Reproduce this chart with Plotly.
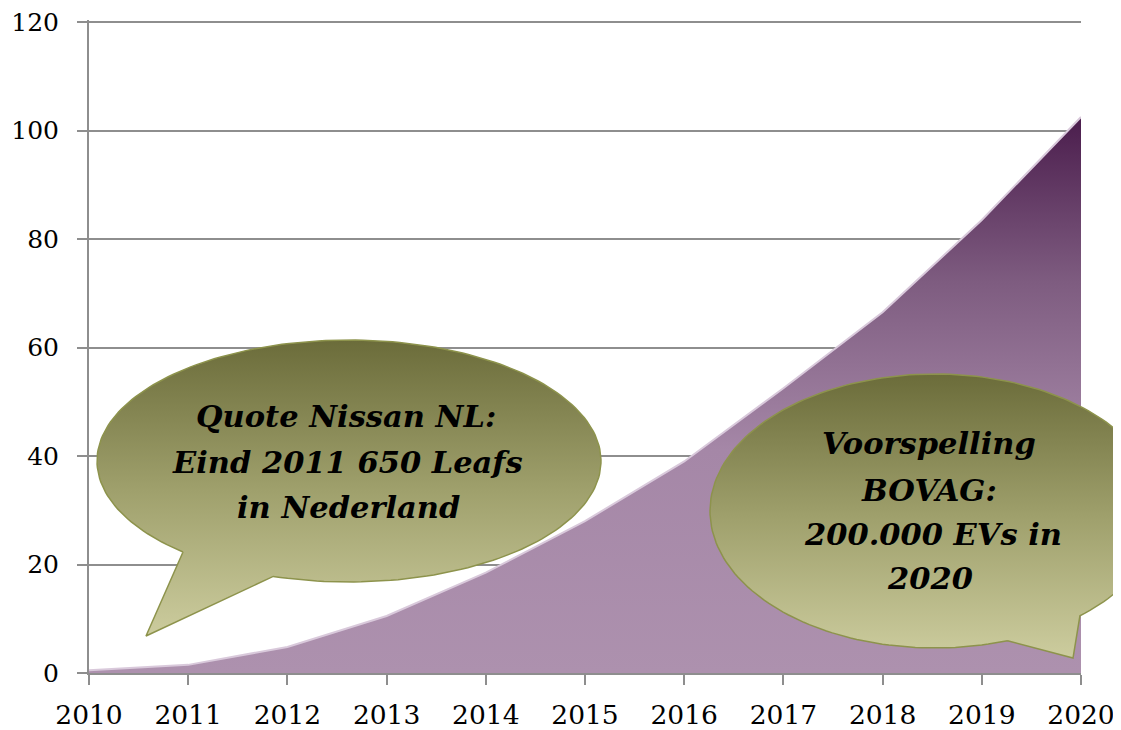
import numpy as np
import plotly.graph_objects as go

# ---- data ----
years = [2010, 2011, 2012, 2013, 2014, 2015, 2016, 2017, 2018, 2019, 2020]
evs = [0.5, 1.5, 4.8, 10.5, 18.5, 28, 39, 52.5, 66.5, 83.5, 102.5]
y_ticks = [0, 20, 40, 60, 80, 100, 120]
bubble1_lines = ["Quote Nissan NL:", "Eind 2011 650 Leafs", "in Nederland"]
bubble2_lines = ["Voorspelling", "BOVAG:", "200.000 EVs in", "2020"]

W, H = 1121, 730
OFF = 8  # page body margin
FW, FH = W - OFF, H - OFF
FONT = "DejaVu Serif"
GRID = "#8e8e8e"
Y_TOP = 120.4
top_px = 673 - (673 - 22) * Y_TOP / 120

fig = go.Figure()

# area
fig.add_trace(go.Scatter(
    x=years, y=evs, mode="lines", fill="tozeroy",
    line=dict(color="#d9c9db", width=2),
    fillgradient=dict(type="vertical", start=0, stop=103,
                      colorscale=[[0, "#ad91ae"], [0.4, "#a587a7"], [0.7, "#7e5c80"], [1, "#4a1c4c"]]),
    xaxis="x", yaxis="y", hoverinfo="skip", showlegend=False))


def bubble(cx, cy, rx, ry, th_a, th_b, tip):
    t = np.radians(np.linspace(th_a, th_b, 200))
    xs = list(cx + rx * np.cos(t)) + [tip[0], cx + rx * np.cos(t[0])]
    ys = list(cy + ry * np.sin(t)) + [tip[1], cy + ry * np.sin(t[0])]
    return xs, ys


olive_scale = [[0, "#6b6c3a"], [0.5, "#9fa06c"], [1, "#cdcd9f"]]

b1x, b1y = bubble(349, 461, 252, 121, 131.2, 107.5 + 360, (146, 636))
fig.add_trace(go.Scatter(
    x=b1x, y=b1y, mode="lines", fill="toself",
    line=dict(color="#8d934c", width=1.5),
    fillgradient=dict(type="vertical", start=340, stop=640, colorscale=olive_scale),
    xaxis="x2", yaxis="y2", hoverinfo="skip", showlegend=False))

b2x, b2y = bubble(935, 511, 225, 137, 71.2, 49.9 + 360, (1073, 658))
fig.add_trace(go.Scatter(
    x=b2x, y=b2y, mode="lines", fill="toself",
    line=dict(color="#8d934c", width=1.5),
    fillgradient=dict(type="vertical", start=374, stop=660, colorscale=olive_scale),
    xaxis="x2", yaxis="y2", hoverinfo="skip", showlegend=False))

annotations = []
for txt, (x, y) in zip(bubble1_lines, [(346, 416), (347, 462), (348, 507)]):
    annotations.append(dict(x=x, y=y, xref="x2", yref="y2", text="<b><i>%s</i></b>" % txt,
                            showarrow=False, font=dict(family=FONT, size=30.5, color="black"),
                            xanchor="center", yanchor="middle"))
for txt, (x, y) in zip(bubble2_lines, [(929, 443), (929, 490), (933, 534), (930, 578)]):
    annotations.append(dict(x=x, y=y, xref="x2", yref="y2", text="<b><i>%s</i></b>" % txt,
                            showarrow=False, font=dict(family=FONT, size=30.5, color="black"),
                            xanchor="center", yanchor="middle"))

fig.update_layout(
    width=FW, height=FH,
    margin=dict(l=0, r=0, t=0, b=0),
    paper_bgcolor="white", plot_bgcolor="rgba(0,0,0,0)",
    showlegend=False,
    annotations=annotations,
    xaxis=dict(domain=[(89 - OFF) / FW, (1081 - OFF) / FW], range=[2010, 2020], tickvals=years,
               ticktext=[str(y) for y in years], showgrid=False, zeroline=False,
               showline=True, linecolor=GRID, linewidth=2, ticks="outside",
               ticklen=10, tickwidth=2, tickcolor=GRID, ticklabelstandoff=7,
               ticklabeloverflow="allow",
               tickfont=dict(family=FONT, size=26.5, color="black"),
               automargin=False, fixedrange=True, anchor="y"),
    yaxis=dict(domain=[(H - 673) / FH, (H - top_px) / FH], range=[0, Y_TOP], tickvals=y_ticks,
               showgrid=True, gridcolor=GRID, gridwidth=2, zeroline=False,
               showline=True, linecolor=GRID, linewidth=2, ticks="outside",
               ticklen=10, tickwidth=2, tickcolor=GRID, ticklabelstandoff=13,
               ticklabeloverflow="allow",
               tickfont=dict(family=FONT, size=25, color="black"),
               automargin=False, fixedrange=True, anchor="x"),
    xaxis2=dict(domain=[0, 1], range=[OFF, W], visible=False, anchor="y2", fixedrange=True),
    yaxis2=dict(domain=[0, 1], range=[H, OFF], visible=False, anchor="x2", fixedrange=True),
)

fig.write_html("out.html", config={"displayModeBar": False})
